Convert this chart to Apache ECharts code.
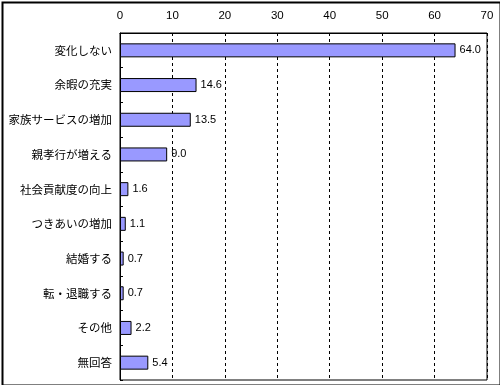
<!DOCTYPE html>
<html>
<head>
<meta charset="utf-8">
<script src="https://cdn.jsdelivr.net/npm/echarts@6/dist/echarts.min.js"></script>
<style>html,body{margin:0;padding:0;background:#fff}#c{width:500px;height:385px}</style>
</head>
<body>
<div id="c"></div>
<script>
const categories = ['変化しない','余暇の充実','家族サービスの増加','親孝行が増える','社会貢献度の向上','つきあいの増加','結婚する','転・退職する','その他','無回答'];
const values = [64.0, 14.6, 13.5, 9.0, 1.6, 1.1, 0.7, 0.7, 2.2, 5.4];
const xTicks = [0, 10, 20, 30, 40, 50, 60, 70];

const font = '"Noto Sans CJK JP", sans-serif';
const numFont = '"Liberation Sans", Arial, sans-serif';
const chart = echarts.init(document.getElementById('c'), null, {renderer: 'canvas'});
chart.setOption({
  animation: false,
  backgroundColor: '#fff',
  graphic: [{
    type: 'rect', left: 0, top: 0, z: 100, silent: true,
    shape: {x: 1, y: 1, width: 498, height: 383},
    style: {fill: null, stroke: '#000', lineWidth: 2}
  }],
  grid: {left: 120, top: 33, right: 13, bottom: 5, show: true, borderColor: '#000', borderWidth: 1, containLabel: false},
  xAxis: {
    type: 'value', position: 'top',
    min: xTicks[0], max: xTicks[xTicks.length - 1], interval: 10,
    axisLine: {show: true, lineStyle: {color: '#000'}},
    axisTick: {show: false},
    axisLabel: {color: '#000', fontSize: 11.5, fontFamily: numFont, margin: 11},
    splitLine: {show: true, lineStyle: {color: '#000', type: [3, 3], width: 1}}
  },
  yAxis: {
    type: 'category', inverse: true, data: categories,
    axisLine: {show: true, lineStyle: {color: '#000'}},
    axisTick: {show: true, inside: true, length: 3, lineStyle: {color: '#000'}},
    axisLabel: {color: '#000', fontSize: 11.5, fontFamily: font, margin: 8}
  },
  series: [{
    type: 'bar', data: values, barWidth: 14,
    itemStyle: {color: '#9999FF', borderColor: '#000', borderWidth: 1},
    label: {show: true, position: 'right', distance: 4, color: '#000', fontSize: 11, fontFamily: numFont,
      formatter: p => p.value.toFixed(1)}
  }]
});
</script>
</body>
</html>
